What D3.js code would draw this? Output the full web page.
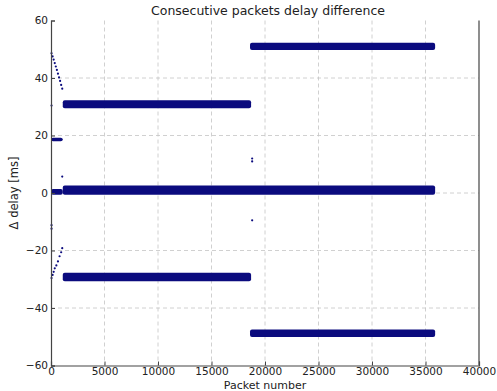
<!DOCTYPE html>
<html>
<head>
<meta charset="utf-8">
<script src="https://cdn.jsdelivr.net/npm/d3@7"></script>
<style>
  body { margin: 0; background: #fff; }
  text { font-family: "DejaVu Sans", sans-serif; fill: #222; }
</style>
</head>
<body>
<div id="chart"></div>
<script>
// x ticks / y ticks
const xTicks = [0, 5000, 10000, 15000, 20000, 25000, 30000, 35000, 40000];
const yTicks = [-60, -40, -20, 0, 20, 40, 60];

// dense bands of points: start packet, end packet, centre delay, half spread
const bandStart  = [0,    1100, 1100, 1100,  18600, 18600, 0];
const bandEnd    = [1100, 35900, 18700, 18700, 35900, 35900, 1100];
const bandCenter = [0.4,  1.0,  30.9, -29.2,  51.0, -48.8, 18.6];
const bandSpread = [1.0,  1.6,  1.4,  1.5,    1.3,  1.3,   0.6];

// isolated transient points
const pointX = [50, 150, 250, 350, 450, 550, 650, 750, 850, 950, 1050,
                50, 1050, 50, 50,
                50, 150, 250, 350, 500, 650, 800, 950, 1050,
                18800, 18800, 18800];
const pointY = [48.6, 47.5, 46.4, 45.2, 44.0, 42.8, 41.5, 40.2, 39.0, 37.6, 36.3,
                30.4, 5.7, -11.2, -12.4,
                -29.6, -28.5, -27.4, -26.2, -25.2, -23.8, -22.0, -20.6, -19.2,
                11.0, 12.0, -9.5];

const width = 497, height = 391;
const margin = {left: 51, right: 18, top: 20.5, bottom: 25.5};

const svg = d3.select("#chart").append("svg")
  .attr("width", width).attr("height", height);

const x = d3.scaleLinear().domain([0, 40000]).range([margin.left, width - margin.right]);
const y = d3.scaleLinear().domain([-60, 60]).range([height - margin.bottom, margin.top]);

/*----grid----*/
const grid = svg.append("g");
grid.selectAll("line.gx").data(xTicks.slice(1, -1)).enter().append("line")
  .attr("x1", d => x(d)).attr("x2", d => x(d))
  .attr("y1", y(60)).attr("y2", y(-60))
  .attr("stroke", "#c4c4c4").attr("stroke-width", 0.8).attr("stroke-dasharray", "4,3");
grid.selectAll("line.gy").data(yTicks.slice(1, -1)).enter().append("line")
  .attr("y1", d => y(d)).attr("y2", d => y(d))
  .attr("x1", x(0)).attr("x2", x(40000))
  .attr("stroke", "#c4c4c4").attr("stroke-width", 0.8).attr("stroke-dasharray", "4,3");

/*----bands and points----*/
const navy = "#0b0b7e";
const bands = d3.range(bandStart.length);
svg.append("g").selectAll("rect").data(bands).enter().append("rect")
  .attr("x", i => x(bandStart[i]))
  .attr("width", i => x(bandEnd[i]) - x(bandStart[i]))
  .attr("y", i => y(bandCenter[i] + bandSpread[i]))
  .attr("height", i => y(bandCenter[i] - bandSpread[i]) - y(bandCenter[i] + bandSpread[i]))
  .attr("rx", 2)
  .attr("fill", navy);

svg.append("g").selectAll("circle").data(d3.range(pointX.length)).enter().append("circle")
  .attr("cx", i => x(pointX[i]))
  .attr("cy", i => y(pointY[i]))
  .attr("r", 1.1)
  .attr("fill", navy);

/*----axes----*/
const xAxis = d3.axisBottom(x).tickValues(xTicks).tickSize(-4).tickPadding(2).tickFormat(d3.format("d"));
const yAxis = d3.axisLeft(y).tickValues(yTicks).tickSize(-4).tickPadding(3)
  .tickFormat(d => d < 0 ? "\u2212" + Math.abs(d) : d);

const gx = svg.append("g").attr("transform", `translate(0,${y(-60)})`).call(xAxis);
const gy = svg.append("g").attr("transform", `translate(${x(0)},0)`).call(yAxis);
[gx, gy].forEach(g => {
  g.select(".domain").attr("stroke", "#444").attr("stroke-width", 1.2);
  g.selectAll(".tick line").attr("stroke", "#444");
  g.selectAll("text").attr("font-size", 10.5).attr("fill", "#222")
    .attr("font-family", "DejaVu Sans, sans-serif");
});

// right spine
svg.append("line")
  .attr("x1", x(40000)).attr("x2", x(40000))
  .attr("y1", y(60)).attr("y2", y(-60))
  .attr("stroke", "#444").attr("stroke-width", 1.2);

/*----labels----*/
svg.append("text").attr("x", (x(0) + x(40000)) / 2 + 3).attr("y", 15)
  .attr("text-anchor", "middle").attr("font-size", 12.5)
  .text("Consecutive packets delay difference");

svg.append("text").attr("x", (x(0) + x(40000)) / 2).attr("y", 389)
  .attr("text-anchor", "middle").attr("font-size", 11)
  .text("Packet number");

svg.append("text")
  .attr("transform", `translate(18,${y(0)}) rotate(-90)`)
  .attr("text-anchor", "middle").attr("font-size", 11.5)
  .text("\u0394 delay [ms]");
</script>
</body>
</html>
